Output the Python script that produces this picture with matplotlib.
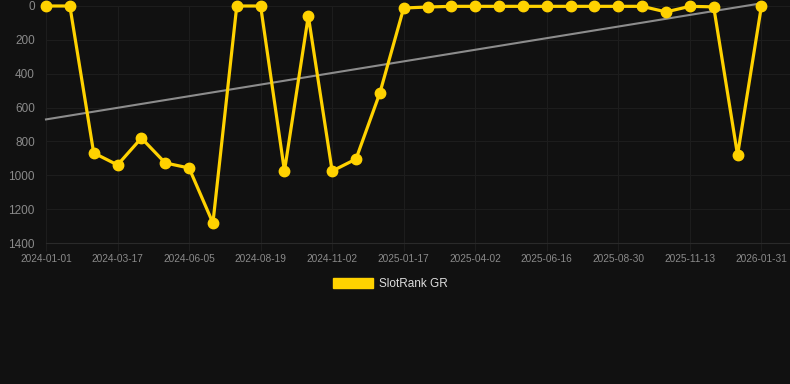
import matplotlib
matplotlib.use("Agg")
import matplotlib.pyplot as plt
from matplotlib.patches import Patch
import numpy as np

plt.rcParams['font.family'] = ['Liberation Sans', 'DejaVu Sans']

# one point per sample, evenly spaced on a category axis
dates = [
    '2024-01-01', '2024-01-26', '2024-02-20',
    '2024-03-17', '2024-04-11', '2024-05-08',
    '2024-06-05', '2024-06-30', '2024-07-25',
    '2024-08-19', '2024-09-13', '2024-10-08',
    '2024-11-02', '2024-11-27', '2024-12-23',
    '2025-01-17', '2025-02-11', '2025-03-08',
    '2025-04-02', '2025-04-27', '2025-05-22',
    '2025-06-16', '2025-07-11', '2025-08-05',
    '2025-08-30', '2025-09-24', '2025-10-19',
    '2025-11-13', '2025-12-08', '2026-01-05',
    '2026-01-31',
]
rank = [
    0, 0, 868, 939, 780, 927, 957, 1282, 0, 0,
    975, 59, 975, 904, 514, 12, 6, 2, 2, 2,
    2, 2, 2, 2, 2, 2, 35, 2, 5, 880,
    2,
]
series_name = 'SlotRank GR'

bg = '#111111'
gold = '#FFD200'
grid_c = '#1d1d1d'
tick_c = '#8a8a8a'

x = np.arange(len(dates))
y = np.array(rank, dtype=float)

fig = plt.figure(figsize=(7.9, 3.84), dpi=100, facecolor=bg)
ax = fig.add_axes([46 / 790, 1 - 243 / 384, 744 / 790, 237 / 384])
ax.set_facecolor(bg)

# trend line
k, b = np.polyfit(x, y, 1)
ax.plot(x, k * x + b, color='#8c8c8c', lw=1.5, zorder=2, clip_on=False)

ax.plot(x, y, color=gold, lw=2.3, marker='o', ms=7.5, mfc=gold, mec=gold,
        solid_joinstyle='miter', zorder=3, clip_on=False)

ax.set_xlim(0, 31.2)
ax.set_ylim(1400, 0)
ax.set_yticks(np.arange(0, 1401, 200))
ax.set_xticks(x[::3])
ax.set_xticklabels(dates[::3])

ax.grid(True, color=grid_c, lw=0.8)
ax.set_axisbelow(True)
for s in ax.spines.values():
    s.set_visible(False)
ax.spines['bottom'].set_visible(True)
ax.spines['bottom'].set_color('#2a2a2a')
ax.spines['bottom'].set_linewidth(0.8)
ax.tick_params(axis='x', colors=grid_c, labelcolor=tick_c, labelsize=7.3,
               length=6, pad=2)
ax.tick_params(axis='y', colors=grid_c, labelcolor=tick_c, labelsize=8.5,
               length=0, pad=8)

fig.legend(handles=[Patch(facecolor=gold, edgecolor=gold, label=series_name)],
           loc='center', bbox_to_anchor=(390 / 790, 1 - 284 / 384),
           frameon=False, fontsize=8.5, labelcolor='#dddddd',
           handlelength=3.4, handleheight=1.0, handletextpad=0.5)

fig.savefig('out.png', dpi=100, facecolor=bg)
